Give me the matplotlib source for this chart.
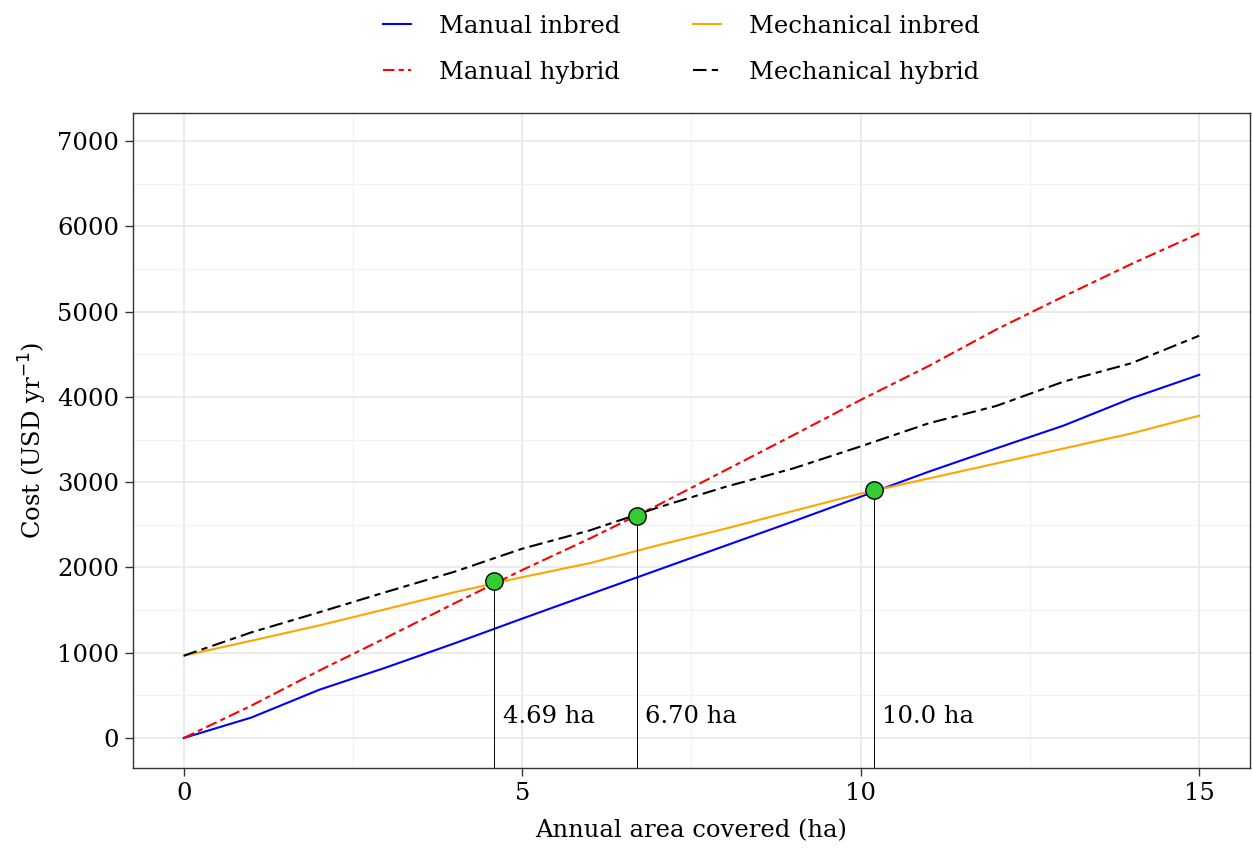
import matplotlib
matplotlib.use("Agg")
import matplotlib.pyplot as plt
import numpy as np

plt.rcParams['font.family'] = ['DejaVu Serif']

# annual area covered (ha)
area = list(range(16))

# cost (USD per year)
manual_inbred = [0, 240, 565, 830, 1110, 1400, 1686, 1970, 2255, 2539, 2830, 3122, 3396, 3665, 3984, 4259]
mech_inbred = [965, 1141, 1320, 1514, 1710, 1886, 2051, 2259, 2455, 2662, 2867, 3043, 3220, 3396, 3572, 3780]
manual_hybrid = [0, 380, 790, 1180, 1580, 1970, 2340, 2730, 3140, 3550, 3965, 4361, 4790, 5180, 5560, 5918]
mech_hybrid = [965, 1239, 1474, 1715, 1950, 2220, 2435, 2702, 2945, 3161, 3420, 3690, 3894, 4180, 4396, 4718]

# break-even points
be_x = [4.59, 6.69, 10.2]
be_y = [1840, 2600, 2906]
be_labels = ['4.69 ha', '6.70 ha', '10.0 ha']

fs = 17.5

fig = plt.figure(figsize=(12.52, 8.58), dpi=100)
ax = fig.add_axes([0.1062, 0.1049, 0.8922, 0.7634])

ax.set_xlim(-0.75, 15.75)
ax.set_ylim(-352, 7330)

# grid like theme_bw
ax.set_xticks([0, 5, 10, 15])
ax.set_xticks([2.5, 7.5, 12.5], minor=True)
ax.set_yticks(range(0, 7001, 1000))
ax.set_yticks(range(500, 7000, 1000), minor=True)
ax.grid(which='major', color='#EBEBEB', lw=1.4, zorder=0)
ax.grid(which='minor', color='#F2F2F2', lw=0.8, zorder=0)
ax.set_axisbelow(True)

ax.plot(area, manual_inbred, color='blue', lw=1.5, label='Manual inbred', zorder=3)
ax.plot(area, manual_hybrid, color='red', lw=1.5, ls=(0, (5.5, 2, 2.5, 2)), label='Manual hybrid', zorder=3)
ax.plot(area, mech_inbred, color='orange', lw=1.5, label='Mechanical inbred', zorder=3)
ax.plot(area, mech_hybrid, color='black', lw=1.5, ls=(0, (6.5, 2.5, 3, 2.5)), label='Mechanical hybrid', zorder=3)

for x, y, lab in zip(be_x, be_y, be_labels):
    ax.plot([x, x], [-352, y], color='black', lw=0.7, zorder=4)
    ax.plot(x, y, 'o', ms=12.5, mfc='#32CD32', mec='black', mew=1.0, zorder=5)
    ax.text(x + 0.12, 250, lab, fontsize=fs, ha='left', va='center')

for s in ax.spines.values():
    s.set_color('#333333')
    s.set_linewidth(1.0)
ax.tick_params(which='major', length=6, width=1.0, color='#333333', labelsize=fs,
               labelcolor='black', pad=4)
ax.tick_params(which='minor', length=0)

ax.set_xlabel('Annual area covered (ha)', fontsize=fs, labelpad=10)
ax.set_ylabel('Cost (USD yr$^{-1}$)', fontsize=fs, labelpad=6)

fig.legend(loc='upper center', bbox_to_anchor=(0.544, 1.0), ncol=2, frameon=False,
           fontsize=fs, handlelength=1.15, columnspacing=3.0, labelspacing=0.95,
           handletextpad=1.15, borderpad=0.1)

plt.savefig('out.png', dpi=100)
